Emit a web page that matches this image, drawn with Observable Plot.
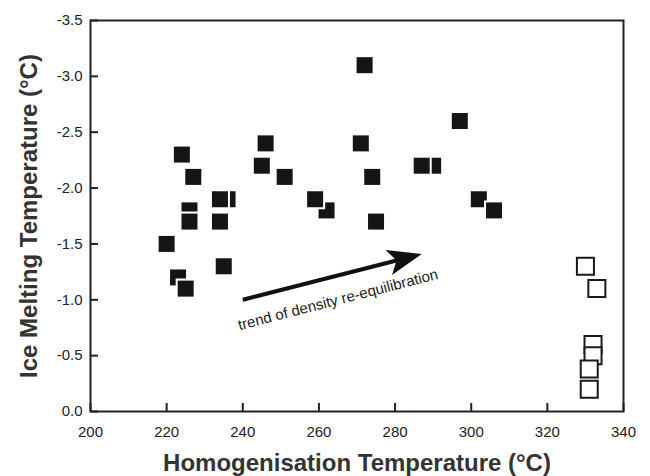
<!DOCTYPE html>
<html><head><meta charset="utf-8">
<script src="https://cdn.jsdelivr.net/npm/d3@7"></script>
<script src="https://cdn.jsdelivr.net/npm/@observablehq/plot@0.6"></script>
<style>
html,body{margin:0;padding:0;background:#fff;}
#chart{width:650px;height:476px;}
</style></head><body><div id="chart"></div>
<script>
// Filled squares (drawn in order: later ones lie on top)
const filledX = [220, 224, 227, 226, 226, 223, 225, 236, 234, 234, 235, 245, 246, 251, 262, 259, 271, 272, 274, 275, 290, 287, 297, 302, 306];
const filledY = [-1.5, -2.3, -2.1, -1.8, -1.7, -1.2, -1.1, -1.9, -1.9, -1.7, -1.3, -2.2, -2.4, -2.1, -1.8, -1.9, -2.4, -3.1, -2.1, -1.7, -2.2, -2.2, -2.6, -1.9, -1.8];
// Open squares
const openX = [330, 333, 332, 332, 331, 331];
const openY = [-1.3, -1.1, -0.6, -0.5, -0.38, -0.2];
// Axis ticks
const xTicks = [200, 220, 240, 260, 280, 300, 320, 340];
const yTicks = [0, -0.5, -1.0, -1.5, -2.0, -2.5, -3.0, -3.5];
// Annotation
const trendX = [240, 287];
const trendY = [-1.0, -1.41];
const labelX = [265];
const labelY = [-1.0];
const trendLabel = "trend of density re-equilibration";
const xTitle = "Homogenisation Temperature (°C)";
const yTitle = "Ice Melting Temperature (°C)";

const filled = filledX.map((x, i) => ({x, y: filledY[i]}));
const open = openX.map((x, i) => ({x, y: openY[i]}));
const arrow = [{x1: trendX[0], y1: trendY[0], x2: trendX[1], y2: trendY[1]}];
const label = labelX.map((x, i) => ({x, y: labelY[i], text: trendLabel}));

const arrowHead = {
  draw(ctx) {
    ctx.moveTo(0, 0);
    ctx.lineTo(13, 34);
    ctx.lineTo(0, 26);
    ctx.lineTo(-13, 34);
    ctx.closePath();
  }
};

const font = "'Liberation Sans', Arial, Helvetica, sans-serif";

const chart = Plot.plot({
  width: 650,
  height: 476,
  marginLeft: 90,
  marginRight: 27,
  marginTop: 20,
  marginBottom: 65,
  style: {fontFamily: font, background: "white", color: "#222"},
  x: {domain: [200, 340]},
  y: {domain: [0, -3.5]},
  marks: [
    Plot.axisX({ticks: xTicks, tickSize: 0, tickPadding: 15, tickFormat: d => String(d), fontSize: 15, label: null, fill: "#222"}),
    Plot.axisY({ticks: yTicks, tickSize: 0, tickPadding: 8, tickFormat: d => d.toFixed(1), fontSize: 15, label: null, fill: "#222"}),
    Plot.tickX(xTicks, {x: d => d, stroke: "#222", strokeWidth: 2, insetTop: 383}),
    Plot.tickY(yTicks, {y: d => d, stroke: "#222", strokeWidth: 2, insetRight: 525}),
    Plot.frame({stroke: "#222", strokeWidth: 2}),
    Plot.dot(filled, {x: "x", y: "y", symbol: "square", r: 9.03, fill: "#151515", stroke: "white", strokeWidth: 4, paintOrder: "stroke"}),
    Plot.dot(open, {x: "x", y: "y", symbol: "square", r: 9.6, fill: "white", stroke: "#1a1a1a", strokeWidth: 2}),
    Plot.arrow(arrow, {x1: "x1", y1: "y1", x2: "x2", y2: "y2", stroke: "#111", strokeWidth: 4, headLength: 0, insetEnd: 22, strokeLinecap: "butt"}),
    Plot.dot(arrow, {x: "x2", y: "y2", symbol: arrowHead, rotate: 75.5, fill: "#111", stroke: "none"}),
    Plot.text(label, {x: "x", y: "y", text: "text", rotate: -14.5, fontSize: 15, fill: "#222"}),
    Plot.text([xTitle], {frameAnchor: "bottom", dy: 51.6, lineAnchor: "middle", textAnchor: "middle", fontSize: 24, fontWeight: "bold", fill: "#333"}),
    Plot.text([yTitle], {frameAnchor: "left", dx: -61, rotate: -90, lineAnchor: "middle", textAnchor: "middle", fontSize: 24, fontWeight: "bold", fill: "#333"})
  ]
});
document.getElementById("chart").appendChild(chart);
</script>
</body></html>
